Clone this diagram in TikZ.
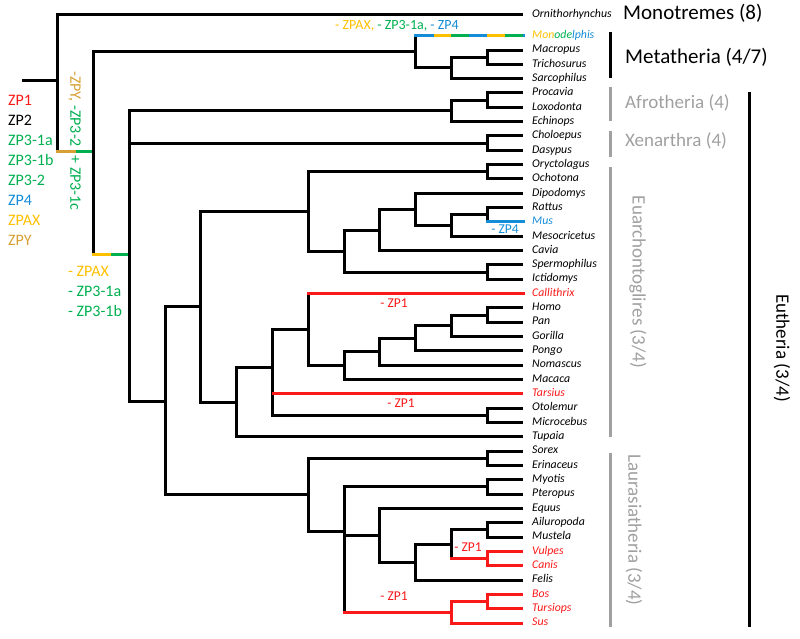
\documentclass[tikz,border=0pt]{standalone}
\usepackage{fontspec}
\setmainfont{Carlito}
\usetikzlibrary{positioning, calc}
\definecolor{zpred}{RGB}{250,25,25}
\definecolor{zpgreen}{RGB}{0,176,80}
\definecolor{zpblue}{RGB}{20,140,215}
\definecolor{zpyellow}{RGB}{255,192,0}
\definecolor{zpgold}{RGB}{214,160,50}
\definecolor{cladegray}{RGB}{160,160,160}
\tikzstyle{branch} = [line width=3pt, black]
\tikzstyle{lost} = [line width=3pt, draw=zpred]
\tikzstyle{leaf} = [anchor=west, inner xsep=9pt, inner ysep=0pt, text height=8pt, text depth=2.5pt,
                    font=\fontsize{11.8}{13}\selectfont\itshape]
\tikzstyle{loss} = [inner sep=0pt, font=\fontsize{13.5}{15}\selectfont]
\tikzstyle{legend} = [anchor=west, inner sep=0pt, font=\fontsize{16}{18}\selectfont]
\tikzstyle{bigclade} = [anchor=west, inner sep=0pt, font=\fontsize{21}{24}\selectfont]
\tikzstyle{subclade} = [inner sep=0pt, text=cladegray, font=\fontsize{19}{22}\selectfont]
\tikzstyle{cladebar} = [line width=3pt, black]
\tikzset{under/.style={below=of #1.west, anchor=west}}

\begin{document}
\begin{tikzpicture}[x=1pt, y=-1pt, node distance=14.325pt]
    \useasboundingbox (0,0) rectangle (800,639);

    % Taxa, top to bottom
    \node[leaf] (orn) at (523,15) {Ornithorhynchus};
    \node[leaf, below=20.7pt of orn.west, anchor=west] (mono) {\textcolor{zpyellow}{Mon}\textcolor{zpgreen}{ode}\textcolor{zpblue}{lphis}};
    \node[leaf, under=mono] (macr) {Macropus};
    \node[leaf, under=macr] (trich) {Trichosurus};
    \node[leaf, under=trich] (sarc) {Sarcophilus};
    \node[leaf, under=sarc] (proc) {Procavia};
    \node[leaf, under=proc] (lox) {Loxodonta};
    \node[leaf, under=lox] (echi) {Echinops};
    \node[leaf, under=echi] (chol) {Choloepus};
    \node[leaf, under=chol] (dasy) {Dasypus};
    \node[leaf, under=dasy] (oryc) {Oryctolagus};
    \node[leaf, under=oryc] (ocho) {Ochotona};
    \node[leaf, under=ocho] (dipo) {Dipodomys};
    \node[leaf, under=dipo] (ratt) {Rattus};
    \node[leaf, under=ratt, text=zpblue] (mus) {Mus};
    \node[leaf, under=mus] (meso) {Mesocricetus};
    \node[leaf, under=meso] (cavia) {Cavia};
    \node[leaf, under=cavia] (sperm) {Spermophilus};
    \node[leaf, under=sperm] (ictid) {Ictidomys};
    \node[leaf, under=ictid, text=zpred] (calli) {Callithrix};
    \node[leaf, under=calli] (homo) {Homo};
    \node[leaf, under=homo] (pan) {Pan};
    \node[leaf, under=pan] (gori) {Gorilla};
    \node[leaf, under=gori] (pongo) {Pongo};
    \node[leaf, under=pongo] (noma) {Nomascus};
    \node[leaf, under=noma] (maca) {Macaca};
    \node[leaf, under=maca, text=zpred] (tars) {Tarsius};
    \node[leaf, under=tars] (otol) {Otolemur};
    \node[leaf, under=otol] (micro) {Microcebus};
    \node[leaf, under=micro] (tupa) {Tupaia};
    \node[leaf, under=tupa] (sorex) {Sorex};
    \node[leaf, under=sorex] (erin) {Erinaceus};
    \node[leaf, under=erin] (myot) {Myotis};
    \node[leaf, under=myot] (pter) {Pteropus};
    \node[leaf, under=pter] (equus) {Equus};
    \node[leaf, under=equus] (ailu) {Ailuropoda};
    \node[leaf, under=ailu] (must) {Mustela};
    \node[leaf, under=must, text=zpred] (vulp) {Vulpes};
    \node[leaf, under=vulp, text=zpred] (canis) {Canis};
    \node[leaf, under=canis] (felis) {Felis};
    \node[leaf, under=felis, text=zpred] (bos) {Bos};
    \node[leaf, under=bos, text=zpred] (turs) {Tursiops};
    \node[leaf, under=turs, text=zpred] (sus) {Sus};

    % Internal nodes
    \coordinate (stub) at (22,81);
    \coordinate (root) at (57.6,81);
    \coordinate (theria) at (93.4,152);
    \coordinate (meta) at (415.6,51.8);
    \coordinate (meta2) at (451.4,67.9);
    \coordinate (meta3) at (487.2,57.2);
    \coordinate (euth) at (129.2,254);
    \coordinate (afro) at (451.4,110.9);
    \coordinate (afro2) at (487.2,100.1);
    \coordinate (xen) at (487.2,143.1);
    \coordinate (boreo) at (165,401);
    \coordinate (euarch) at (200.8,306.5);
    \coordinate (glires) at (308.2,211.4);
    \coordinate (lago) at (487.2,171.8);
    \coordinate (rod) at (344,251);
    \coordinate (rod2) at (379.8,230);
    \coordinate (rod3) at (415.6,209.4);
    \coordinate (rod4) at (451.4,225.5);
    \coordinate (murid) at (487.2,214.7);
    \coordinate (sciur) at (487.2,272);
    \coordinate (euarchonta) at (236.6,402);
    \coordinate (prim) at (272.4,367);
    \coordinate (anthro) at (308.2,329.6);
    \coordinate (catar) at (344,365.6);
    \coordinate (hom1) at (379.8,351.7);
    \coordinate (hom2) at (415.6,338.3);
    \coordinate (hom3) at (451.4,325.8);
    \coordinate (hompan) at (487.2,315);
    \coordinate (strep) at (487.2,415.3);
    \coordinate (laur) at (308.2,494.6);
    \coordinate (eulip) at (487.2,458.3);
    \coordinate (scrot) at (344,531);
    \coordinate (chiro) at (487.2,486.9);
    \coordinate (ferung) at (379.8,535.3);
    \coordinate (carnfel) at (415.6,562.1);
    \coordinate (carn) at (451.4,544.2);
    \coordinate (musail) at (487.2,529.9);
    \coordinate (canid) at (487.2,558.5);
    \coordinate (cetart) at (451.4,612.3);
    \coordinate (bostur) at (487.2,601.5);
    \coordinate (rootmid) at ($(root |- theria)!0.5!(theria)$);
    \coordinate (theriamid) at ($(theria |- euth)!0.5!(euth)$);

    % Branches
    \draw[branch] (stub) -- (root);
    \draw[branch] (root) |- (orn);
    \draw[branch] (root) -- (root |- theria);
    \draw[branch, zpgold, line cap=rect] (root |- theria) -- (rootmid);
    \draw[branch, zpgreen] (rootmid) -- (theria);
    \draw[branch] (theria) |- (meta);
    \draw[branch] (theria) -- (theria |- euth);
    \draw[branch, zpyellow, line cap=rect] (theria |- euth) -- (theriamid);
    \draw[branch, zpgreen] (theriamid) -- (euth);

    \draw[branch] (meta) -- (meta |- mono);
    \draw[branch, zpblue, line cap=rect] (meta |- mono) -- (mono);
    \draw[branch, zpyellow, dash pattern=on 17.9pt off 35.8pt, dash phase=35.8pt] (meta |- mono) -- (mono);
    \draw[branch, zpgreen, dash pattern=on 17.9pt off 35.8pt, dash phase=17.9pt] (meta |- mono) -- (mono);
    \draw[branch] (meta) |- (meta2);
    \draw[branch] (meta2) |- (meta3);
    \draw[branch] (meta2) |- (sarc);
    \draw[branch] (meta3) |- (macr);
    \draw[branch] (meta3) |- (trich);

    \draw[branch] (euth) |- (afro);
    \draw[branch] (euth) |- (xen);
    \draw[branch] (euth) |- (boreo);
    \draw[branch] (afro) |- (afro2);
    \draw[branch] (afro) |- (echi);
    \draw[branch] (afro2) |- (proc);
    \draw[branch] (afro2) |- (lox);
    \draw[branch] (xen) |- (chol);
    \draw[branch] (xen) |- (dasy);

    \draw[branch] (boreo) |- (euarch);
    \draw[branch] (boreo) |- (laur);
    \draw[branch] (euarch) |- (glires);
    \draw[branch] (euarch) |- (euarchonta);
    \draw[branch] (glires) |- (lago);
    \draw[branch] (glires) |- (rod);
    \draw[branch] (lago) |- (oryc);
    \draw[branch] (lago) |- (ocho);
    \draw[branch] (rod) |- (rod2);
    \draw[branch] (rod) |- (sciur);
    \draw[branch] (sciur) |- (sperm);
    \draw[branch] (sciur) |- (ictid);
    \draw[branch] (rod2) |- (rod3);
    \draw[branch] (rod2) |- (cavia);
    \draw[branch] (rod3) |- (dipo);
    \draw[branch] (rod3) |- (rod4);
    \draw[branch] (rod4) |- (murid);
    \draw[branch] (rod4) |- (meso);
    \draw[branch] (murid) |- (ratt);
    \draw[branch] (murid) -- (murid |- mus);
    \draw[branch, zpblue, line cap=rect] (murid |- mus) -- (mus);

    \draw[branch] (euarchonta) |- (prim);
    \draw[branch] (euarchonta) |- (tupa);
    \draw[branch] (prim) |- (anthro);
    \draw[branch] (prim) |- (strep);
    \draw[lost] (prim |- tars) -- (tars);
    \draw[branch] (strep) |- (otol);
    \draw[branch] (strep) |- (micro);
    \draw[branch] (anthro) -- (anthro |- calli);
    \draw[lost, line cap=rect] (anthro |- calli) -- (calli);
    \draw[branch] (anthro) |- (catar);
    \draw[branch] (catar) |- (hom1);
    \draw[branch] (catar) |- (maca);
    \draw[branch] (hom1) |- (hom2);
    \draw[branch] (hom1) |- (noma);
    \draw[branch] (hom2) |- (hom3);
    \draw[branch] (hom2) |- (pongo);
    \draw[branch] (hom3) |- (hompan);
    \draw[branch] (hom3) |- (gori);
    \draw[branch] (hompan) |- (homo);
    \draw[branch] (hompan) |- (pan);

    \draw[branch] (laur) |- (eulip);
    \draw[branch] (laur) |- (scrot);
    \draw[branch] (eulip) |- (sorex);
    \draw[branch] (eulip) |- (erin);
    \draw[branch] (scrot) |- (chiro);
    \draw[branch] (scrot) |- (ferung);
    \draw[branch] (scrot) -- (scrot |- cetart);
    \draw[lost, line cap=rect] (scrot |- cetart) -- (cetart);
    \draw[branch] (chiro) |- (myot);
    \draw[branch] (chiro) |- (pter);
    \draw[branch] (ferung) |- (equus);
    \draw[branch] (ferung) |- (carnfel);
    \draw[branch] (carnfel) |- (carn);
    \draw[branch] (carnfel) |- (felis);
    \draw[branch] (carn) |- (musail);
    \draw[branch] (carn) -- (carn |- canid);
    \draw[lost, line cap=rect] (carn |- canid) -- (canid);
    \draw[branch] (musail) |- (ailu);
    \draw[branch] (musail) |- (must);
    \draw[lost] (canid) |- (vulp);
    \draw[lost] (canid) |- (canis);
    \draw[lost] (cetart) |- (bostur);
    \draw[lost] (cetart) |- (sus);
    \draw[lost] (bostur) |- (bos);
    \draw[lost] (bostur) |- (turs);

    % Gene losses on branches
    \node[loss, font=\fontsize{14}{16}\selectfont] (lossmono) at (397,26) {\textcolor{zpyellow}{- ZPAX,} \textcolor{zpgreen}{- ZP3-1a,} \textcolor{zpblue}{- ZP4}};
    \node[loss, text=zpblue] (lossmus) at (505,229) {- ZP4};
    \node[loss, text=zpred] (losscalli) at (394,303) {- ZP1};
    \node[loss, text=zpred] (losstars) at (401,403) {- ZP1};
    \node[loss, text=zpred] (losscanid) at (468,547) {- ZP1};
    \node[loss, text=zpred] (losscet) at (394,596) {- ZP1};
    \node[legend, anchor=center, rotate=-90] (losstheria) at (74.5,141) {\textcolor{zpgold}{-ZPY,} \textcolor{zpgreen}{-ZP3-2\hspace{8.5pt}+ ZP3-1c}};
    \node[legend, text=zpyellow] (losspax) at (68,271) {- ZPAX};
    \node[legend, text=zpgreen, below=20pt of losspax.west, anchor=west] (loss1a) {- ZP3-1a};
    \node[legend, text=zpgreen, below=20pt of loss1a.west, anchor=west] (loss1b) {- ZP3-1b};

    % Gene legend
    \node[legend, text=zpred] (lzpone) at (8,100) {ZP1};
    \node[legend, below=20.1pt of lzpone.west, anchor=west] (lzptwo) {ZP2};
    \node[legend, text=zpgreen, below=20.1pt of lzptwo.west, anchor=west] (lzpthreea) {ZP3-1a};
    \node[legend, text=zpgreen, below=20.1pt of lzpthreea.west, anchor=west] (lzpthreeb) {ZP3-1b};
    \node[legend, text=zpgreen, below=20.1pt of lzpthreeb.west, anchor=west] (lzpthreetwo) {ZP3-2};
    \node[legend, text=zpblue, below=20.1pt of lzpthreetwo.west, anchor=west] (lzpfour) {ZP4};
    \node[legend, text=zpyellow, below=20.1pt of lzpfour.west, anchor=west] (lzpax) {ZPAX};
    \node[legend, text=zpgold, below=20.1pt of lzpax.west, anchor=west] (lzpy) {ZPY};

    % Clades
    \draw[cladebar] (610.7,31.7) -- (610.7,78.3);
    \draw[cladebar, cladegray] (610.7,86.7) -- (610.7,120.7);
    \draw[cladebar, cladegray] (610.7,130.7) -- (610.7,156.7);
    \draw[cladebar, cladegray] (610.7,167.5) -- (610.7,436.7);
    \draw[cladebar, cladegray] (610.7,452.7) -- (610.7,626.7);
    \draw[cladebar] (749,91.7) -- (749,626.7);
    \node[bigclade] (monot) at (623,13) {Monotremes (8)};
    \node[bigclade] (metat) at (625,57) {Metatheria (4/7)};
    \node[subclade, anchor=west] (afrot) at (625,103) {Afrotheria (4)};
    \node[subclade, anchor=west] (xenar) at (625,141) {Xenarthra (4)};
    \node[subclade, rotate=-90] (euarl) at (638,282) {Euarchontoglires (3/4)};
    \node[subclade, rotate=-90] (laurl) at (634,530) {Laurasiatheria (3/4)};
    \node[bigclade, anchor=center, rotate=-90, font=\fontsize{19}{22}\selectfont] (euthl) at (782,348) {Eutheria (3/4)};
\end{tikzpicture}
\end{document}
